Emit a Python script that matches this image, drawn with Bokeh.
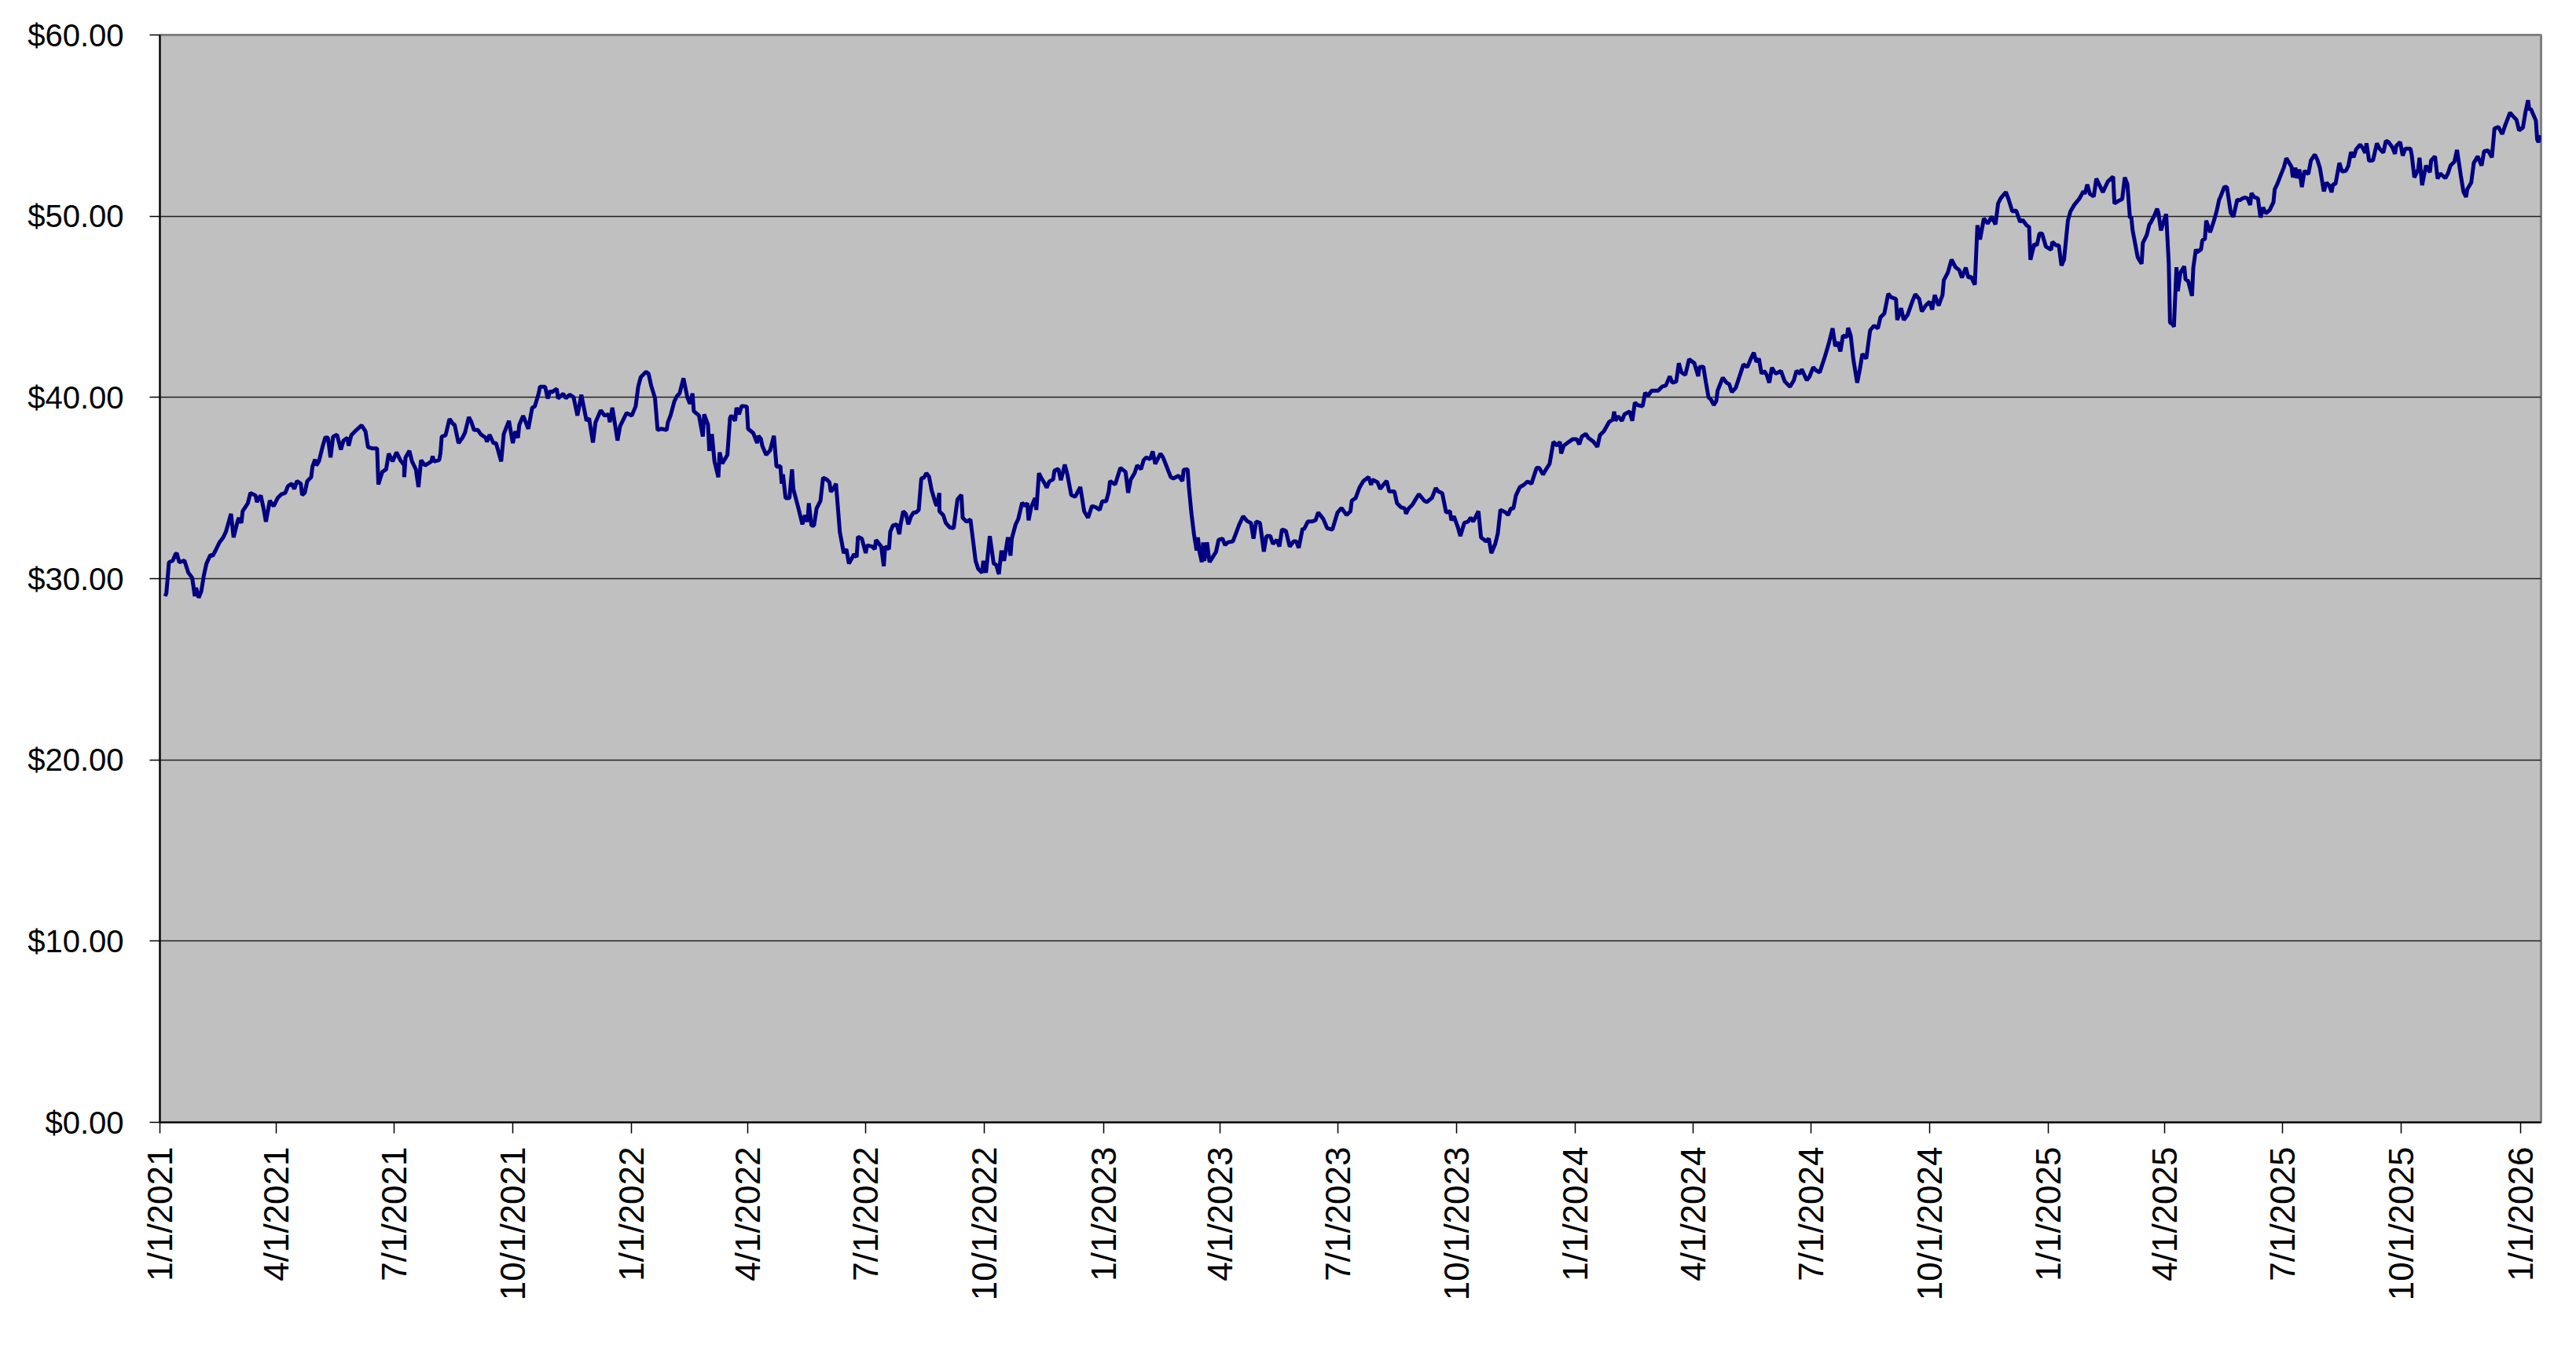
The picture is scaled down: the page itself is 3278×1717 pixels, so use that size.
import math
import pandas as pd
from bokeh.plotting import figure
from bokeh.models import FixedTicker, NumeralTickFormatter, Range1d, ColumnDataSource
from bokeh.embed import file_html
from bokeh.resources import INLINE

# ---------------- data ----------------
START_DATE = "2021-01-01"

# days elapsed since START_DATE for each estimated price point
day_offsets = [
    4, 5, 7, 10, 12, 13, 15, 19, 22, 25, 27, 28, 30, 32, 34, 36, 39, 41, 43, 46, 49, 51, 55, 57, 60, 61, 63, 64, 68, 70,
    74, 75, 78, 80, 82, 85, 88, 91, 94, 97, 99, 102, 104, 106, 109, 110, 112, 114, 117, 118, 120, 121, 123, 126, 128,
    130, 132, 134, 137, 140, 142, 145, 146, 148, 152, 156, 159, 161, 164, 168, 169, 172, 175, 177, 180, 183, 186, 189,
    189, 190, 193, 195, 198, 200, 202, 205, 210, 211, 212, 216, 217, 218, 221, 224, 227, 228, 231, 234, 236, 239, 241,
    243, 246, 248, 252, 253, 255, 258, 260, 264, 266, 270, 273, 275, 277, 278, 281, 285, 288, 290, 293, 294, 298, 300,
    302, 303, 307, 308, 312, 314, 317, 320, 323, 326, 330, 332, 335, 337, 341, 344, 347, 348, 350, 354, 356, 361, 365,
    368, 370,
    372, 376, 378, 380, 383, 385, 388, 392, 393, 395, 398, 400, 402, 405, 408, 410, 412, 413, 417, 420, 421, 424, 425,
    427, 429, 432, 433, 435, 439, 441, 442, 445, 446, 448, 450, 454, 455, 459, 462, 463, 465, 466, 469, 472, 475, 477,
    480, 481, 482, 484, 487, 489, 490, 494, 497, 499, 501, 502, 504, 506, 508, 511, 513, 516, 518, 519, 521, 523, 526,
    529, 531, 533, 537, 539, 540, 543, 546, 547, 551, 553, 554, 558, 560, 561, 564, 565, 567, 570, 572, 573, 575, 577,
    579, 581, 583, 585, 587, 589, 591, 593, 595, 597, 600, 601, 603, 603, 606, 608, 611, 614, 617, 620, 621, 624, 627,
    631, 633, 636, 637, 639, 642, 645, 647, 649, 651, 653, 656, 658, 659, 662, 664, 667, 669, 671, 672, 674, 677, 678,
    680, 682, 684, 686, 688, 691, 692, 695, 697, 700, 702, 705, 708, 712, 715, 718, 721, 724, 727, 729, 732, 734, 735,
    739,
    743, 747, 749, 751, 754, 756, 759, 761, 763, 766, 768, 770, 774, 776, 778, 782, 784, 788, 791, 792, 795, 796, 798,
    800, 802, 803, 804, 806, 807, 808, 810, 812, 817, 819, 822, 824, 826, 830, 832, 835, 838, 841, 844, 846, 848, 851,
    854, 856, 859, 861, 864, 866, 868, 871, 874, 877, 879, 881, 884, 885, 888, 891, 894, 896, 900, 903, 907, 911, 914,
    918, 921, 922, 925, 928, 931, 935, 937, 938, 942, 944, 946, 949, 951, 955, 957, 960, 963, 964, 966, 969, 972, 974,
    978, 980, 984, 987, 989, 992, 995, 998, 999, 1001, 1004, 1006, 1009, 1012, 1014, 1016, 1020, 1022, 1026, 1028, 1030,
    1033, 1035, 1037, 1041, 1043, 1045, 1047, 1049, 1052, 1055, 1058, 1061, 1065, 1067, 1070, 1073, 1075, 1078, 1081,
    1083, 1084, 1086, 1090, 1093, 1096, 1098, 1100, 1103, 1105, 1109,
    1112, 1114, 1117, 1121, 1124, 1125, 1126, 1128, 1131, 1133, 1137, 1139, 1141, 1143, 1147, 1149, 1151, 1154, 1159,
    1162, 1165, 1168, 1170, 1173, 1175, 1177, 1180, 1183, 1187, 1190, 1191, 1194, 1196, 1198, 1200, 1202, 1204, 1205,
    1207, 1209, 1212, 1214, 1216, 1219, 1222, 1225, 1228, 1231, 1233, 1235, 1237, 1239, 1241, 1243, 1245, 1247, 1250,
    1252, 1254, 1257, 1261, 1264, 1266, 1269, 1270, 1274, 1276, 1279, 1281, 1284, 1288, 1291, 1294, 1296, 1298, 1300,
    1302, 1305, 1306, 1308, 1310, 1313, 1315, 1317, 1320, 1323, 1326, 1329, 1331, 1334, 1337, 1339, 1343, 1344, 1347,
    1349, 1352, 1356, 1358, 1361, 1363, 1366, 1369, 1371, 1373, 1376, 1379, 1380, 1383, 1386, 1389, 1392, 1394, 1397,
    1399, 1401, 1404, 1406, 1408, 1411, 1414, 1417, 1420, 1422, 1424, 1428, 1430, 1433, 1436, 1439, 1441, 1444, 1446,
    1447, 1450, 1452, 1454, 1456, 1459, 1463, 1464, 1467, 1469, 1471, 1473, 1476, 1478, 1481,
    1485, 1488, 1489, 1491, 1493, 1496, 1498, 1501, 1503, 1505, 1507, 1511, 1512, 1515, 1518, 1520, 1522, 1524, 1525,
    1526, 1530, 1533, 1534, 1537, 1539, 1540, 1543, 1545, 1546, 1548, 1550, 1552, 1554, 1555, 1557, 1558, 1560, 1561,
    1563, 1566, 1567, 1569, 1572, 1573, 1575, 1576, 1579, 1580, 1582, 1583, 1586, 1589, 1591, 1593, 1594, 1597, 1599,
    1602, 1604, 1607, 1609, 1611, 1613, 1615, 1617, 1618, 1620, 1623, 1625, 1627, 1629, 1632, 1635, 1636, 1638, 1641,
    1643, 1645, 1649, 1650, 1652, 1653, 1655, 1657, 1659, 1662, 1664, 1667, 1669, 1671, 1674, 1676, 1678, 1680, 1681,
    1683, 1686, 1688, 1691, 1693, 1695, 1697, 1699, 1702, 1704, 1706, 1707, 1709, 1712, 1715, 1717, 1720, 1722, 1724,
    1727, 1729, 1730, 1733, 1735, 1737, 1741, 1742, 1744, 1747, 1748, 1750, 1752, 1753, 1756, 1757, 1760, 1762, 1764,
    1768, 1770, 1772, 1775, 1777, 1780, 1782, 1784, 1785, 1788, 1790, 1793, 1796, 1798, 1801, 1804, 1806, 1809, 1812,
    1814, 1818, 1820, 1823, 1825, 1828, 1830, 1832, 1833, 1834, 1836, 1838, 1839, 1840, 1842,
]

prices = [
    29.03, 29.2, 30.9, 31.0, 31.34, 31.41, 30.9, 31.0, 30.33, 30.04, 29.03, 29.5, 28.95, 29.3, 30.18, 30.83, 31.3, 31.27,
    31.55, 31.99, 32.28, 32.57, 33.58, 32.28, 33.14, 33.36, 33.07, 33.72, 34.16, 34.73, 34.59, 34.23, 34.59, 33.94,
    33.14, 34.3, 34.0, 34.44, 34.66, 34.73, 35.1, 35.24, 34.95, 35.38, 35.24, 34.62, 34.73, 35.38, 35.6, 36.18, 36.58,
    36.25, 36.47, 37.33, 37.8, 37.77, 36.69, 37.84, 37.94, 37.12, 37.62, 37.77, 37.33, 37.91, 38.2, 38.46, 38.13, 37.26,
    37.19, 37.19, 35.2, 35.89, 36.03, 36.9, 36.47, 36.97, 36.54, 36.25, 35.6, 36.69, 37.05, 36.47, 36.03, 35.05, 36.54,
    36.25, 36.47, 36.76, 36.47, 36.54, 36.9, 37.84, 37.91, 38.81, 38.52, 38.49, 37.48, 37.77, 38.06, 38.92, 38.63, 38.2,
    38.2, 37.98, 37.77, 37.55, 37.94, 37.48, 37.48, 36.47, 37.98, 38.71, 37.48, 38.13, 37.77, 38.49, 38.99, 38.27, 39.43,
    39.5, 40.22, 40.59, 40.59, 39.94, 40.37, 40.27, 40.48, 39.94, 40.2, 39.96, 40.15, 40.01, 39.0, 40.15, 38.71, 38.85,
    37.51, 38.63, 39.29, 39.0, 39.07, 38.63, 39.43, 37.62, 38.42, 39.14, 39.0, 39.5, 40.59,
    41.12, 41.41, 41.31, 40.66, 39.96, 38.2, 38.27, 38.2, 38.63, 39.0, 39.79, 40.08, 40.22, 41.06, 40.01, 39.65, 40.22,
    39.24, 39.0, 37.84, 39.07, 38.49, 37.05, 37.98, 36.47, 35.6, 36.97, 36.35, 36.83, 38.85, 39.0, 38.71, 39.43, 39.07,
    39.53, 39.5, 38.27, 38.03, 37.48, 37.88, 37.7, 37.33, 36.83, 37.07, 37.88, 36.18, 36.21, 35.24, 35.75, 34.44, 34.44,
    36.03, 34.95, 33.87, 33.0, 33.5, 33.14, 34.16, 32.93, 32.93, 33.87, 34.3, 35.57, 35.46, 35.31, 34.8, 34.95, 35.24,
    32.57, 31.41, 31.63, 30.83, 31.34, 31.19, 32.31, 32.21, 31.41, 31.84, 31.77, 31.63, 32.13, 31.77, 30.69, 31.77,
    31.63, 32.59, 32.93, 33.0, 32.45, 33.0, 33.72, 33.58, 33.0, 33.43, 33.65, 33.65, 33.79, 35.53, 35.57, 35.82, 35.63,
    34.88, 34.16, 34.01, 34.73, 33.72, 33.5, 33.07, 32.83, 32.78, 34.37, 34.62, 33.36, 33.14, 33.26, 30.98, 30.54, 30.33,
    30.98, 30.33, 32.35, 30.83, 30.76, 30.25, 31.55, 30.98, 32.28, 31.27, 32.21, 33.0, 33.29, 34.19, 34.01, 34.16, 33.22,
    33.94, 34.44, 33.79, 35.82, 35.53, 35.31, 35.02, 35.36, 35.48, 35.96, 36.06, 35.43, 36.29, 35.75, 34.62, 34.52,
    35.05, 33.72, 33.36, 34.01, 33.94, 33.79, 34.27, 34.27, 34.8, 35.38, 35.2,
    36.11, 35.89, 34.74, 35.46, 35.82, 36.25, 36.04, 36.54, 36.69, 36.59, 37.02, 36.33, 36.9, 36.69, 36.33, 35.6, 35.53,
    35.68, 35.39, 36.01, 36.04, 35.05, 33.58, 32.42, 31.56, 32.28, 31.56, 30.91, 32.0, 30.98, 32.0, 30.91, 31.48, 32.14,
    32.21, 31.85, 32.0, 32.06, 32.42, 33.0, 33.44, 33.18, 33.07, 32.21, 33.15, 33.07, 31.49, 32.35, 32.35, 31.92, 32.14,
    31.77, 32.71, 32.64, 31.77, 32.06, 32.06, 31.7, 32.78, 32.71, 33.15, 33.15, 33.22, 33.65, 33.29, 32.78, 32.71, 33.65,
    33.9, 33.51, 33.72, 34.3, 34.45, 35.03, 35.39, 35.6, 35.17, 35.46, 35.31, 34.95, 35.14, 35.39, 34.81, 34.81, 34.16,
    33.94, 33.87, 33.58, 33.87, 34.09, 34.45, 34.66, 34.3, 34.23, 34.45, 35.0, 34.81, 34.71, 33.65, 33.72, 33.22, 33.44,
    32.86, 32.35, 33.07, 33.15, 33.36, 33.15, 33.72, 32.28, 32.06, 32.21, 31.41, 31.92, 32.5, 33.8, 33.65, 33.51, 33.87,
    33.87, 34.59, 35.05, 35.17, 35.36, 35.24, 36.11, 36.11, 35.75, 36.11, 36.33, 37.55, 37.34, 37.55, 36.9, 37.34, 37.55,
    37.7, 37.7, 37.41, 37.84, 37.99, 37.77, 37.55,
    37.27, 37.92, 38.13, 38.64, 38.78, 39.22, 38.71, 38.96, 38.71, 39.07, 39.22, 38.71, 39.72, 39.58, 39.51, 40.26, 40.08,
    40.37, 40.37, 40.59, 40.66, 41.17, 40.81, 40.88, 41.89, 41.38, 41.24, 42.11, 41.89, 41.17, 41.67, 41.7, 40.81, 40.01,
    39.87, 39.58, 39.8, 40.37, 40.73, 41.09, 40.81, 40.73, 40.3, 40.52, 41.17, 41.82, 41.67, 42.18, 42.47, 41.96, 42.14,
    41.31, 41.46, 41.24, 40.81, 41.64, 41.31, 41.38, 41.46, 40.88, 40.59, 40.95, 41.46, 41.31, 41.56, 40.95, 41.13, 41.67,
    41.5, 41.38, 42.25, 42.97, 43.81, 42.83, 43.05, 42.54, 43.41, 43.33, 43.84, 43.41, 42.11, 40.81, 41.53, 42.4, 42.14,
    43.7, 43.96, 43.81, 44.42, 44.63, 45.72, 45.54, 45.43, 44.27, 44.92, 44.27, 44.56, 45.36, 45.69, 45.43, 44.74, 45.07,
    45.28, 44.85, 45.65, 45.07, 45.65, 46.47, 46.87, 47.6, 47.19, 47.02, 46.61, 47.16, 46.61, 46.66, 46.22, 49.5, 48.72,
    49.88, 49.59, 49.98, 49.55, 50.7, 50.99, 51.33, 50.95, 50.27, 50.31, 49.69, 49.79, 49.5, 49.4, 47.6, 48.46, 48.39,
    49.04, 49.04, 48.32, 48.15, 48.58, 48.39, 48.39, 47.28, 47.6, 49.76, 50.27, 50.63,
    50.98, 51.37, 51.23, 51.75, 51.23, 51.09, 52.07, 51.63, 51.32, 51.63, 51.92, 52.18, 50.7, 50.84, 50.94, 52.14, 51.78,
    49.9, 49.97, 49.25, 47.73, 47.37, 48.53, 48.96, 49.54, 49.64, 50.05, 50.41, 50.19, 49.21, 49.68, 50.12, 47.44, 44.12,
    44.05, 43.9, 47.18, 45.86, 46.87, 47.23, 46.51, 46.43, 45.6, 47.15, 48.17, 48.02, 48.17, 48.67, 48.74, 49.76, 49.11,
    49.76, 50.26, 50.91, 51.06, 51.61, 51.61, 50.19, 49.97, 50.91, 50.88, 50.98, 51.03, 50.98, 50.62, 51.27, 51.06, 50.98,
    49.93, 50.48, 50.16, 50.33, 50.77, 51.49, 51.78, 52.33, 52.68, 53.2, 52.72, 52.14, 52.68, 52.1, 52.58, 51.61, 52.5,
    52.33, 53.08, 53.4, 53.11, 52.65, 51.37, 51.85, 51.71, 51.32, 51.75, 51.78, 52.94, 52.47, 52.5, 52.79, 53.54, 53.25,
    53.69, 53.95, 53.77, 53.49, 54.02, 53.05, 53.08, 54.02, 53.73, 53.51, 54.16, 54.09, 53.8, 53.44, 53.88, 54.09, 53.34,
    53.73, 53.73, 53.37, 52.14, 52.58, 53.23, 51.71, 52.43, 52.79, 52.43, 53.08, 53.3, 52.07, 52.36, 52.1, 52.36, 52.79,
    53.01, 53.66, 52.21, 51.35, 51.06, 51.49, 51.85, 52.94, 53.3, 52.79, 53.59, 53.63, 53.25, 54.84, 54.93, 54.53, 54.96,
    55.71, 55.54, 55.32, 54.74, 54.89, 55.75, 56.4, 55.85, 55.94, 55.61, 55.28, 54.24, 54.09, 54.45,
]

x_tick_labels = [
    "1/1/2021", "4/1/2021", "7/1/2021", "10/1/2021",
    "1/1/2022", "4/1/2022", "7/1/2022", "10/1/2022",
    "1/1/2023", "4/1/2023", "7/1/2023", "10/1/2023",
    "1/1/2024", "4/1/2024", "7/1/2024", "10/1/2024",
    "1/1/2025", "4/1/2025", "7/1/2025", "10/1/2025",
    "1/1/2026",
]
y_ticks = [0, 10, 20, 30, 40, 50, 60]

# ---------------- build ----------------
n = min(len(day_offsets), len(prices))
start = pd.Timestamp(START_DATE)
dates = [start + pd.Timedelta(days=d) for d in day_offsets[:n]]
source = ColumnDataSource(data=dict(date=dates, price=prices[:n]))


def to_ms(ts):
    return float(pd.Timestamp(ts).value // 10**6)


tick_ms = [to_ms(pd.to_datetime(lbl, format="%m/%d/%Y")) for lbl in x_tick_labels]
overrides = {t: lbl for t, lbl in zip(tick_ms, x_tick_labels)}

p = figure(
    width=3262, height=1700,
    x_axis_type="datetime",
    x_range=Range1d(start=to_ms(start), end=to_ms(dates[-1])),
    y_range=Range1d(start=0, end=60),
    output_backend="svg", toolbar_location=None,
    min_border_left=203, min_border_right=29, min_border_top=44, min_border_bottom=272,
)

p.background_fill_color = "#C0C0C0"
p.border_fill_color = "white"
p.outline_line_color = "#808080"
p.outline_line_width = 3

p.line(x="date", y="price", source=source, line_color="#000080", line_width=5)

# grid
p.xgrid.visible = False
p.ygrid.ticker = FixedTicker(ticks=y_ticks)
p.ygrid.grid_line_color = "#202020"
p.ygrid.grid_line_width = 1.5

# y axis
yax = p.yaxis[0]
yax.ticker = FixedTicker(ticks=y_ticks)
yax.formatter = NumeralTickFormatter(format="$0.00")
yax.axis_line_color = "black"
yax.axis_line_width = 2
yax.major_tick_line_color = "black"
yax.major_tick_line_width = 1.5
yax.major_tick_in = 0
yax.major_tick_out = 13
yax.minor_tick_line_color = None
yax.major_label_standoff = 33
yax.major_label_text_font = "Liberation Sans"
yax.major_label_text_font_size = "40px"
yax.major_label_text_color = "black"

# x axis
xax = p.xaxis[0]
xax.ticker = FixedTicker(ticks=tick_ms)
xax.major_label_overrides = overrides
xax.axis_line_color = "black"
xax.axis_line_width = 2
xax.major_tick_line_color = "black"
xax.major_tick_line_width = 1.5
xax.major_tick_in = 0
xax.major_tick_out = 14
xax.minor_tick_line_color = None
xax.major_label_orientation = math.pi / 2
xax.major_label_standoff = 17
xax.major_label_text_font = "Liberation Sans"
xax.major_label_text_font_size = "44px"
xax.major_label_text_color = "black"

open("out.html", "w").write(file_html(p, INLINE))
